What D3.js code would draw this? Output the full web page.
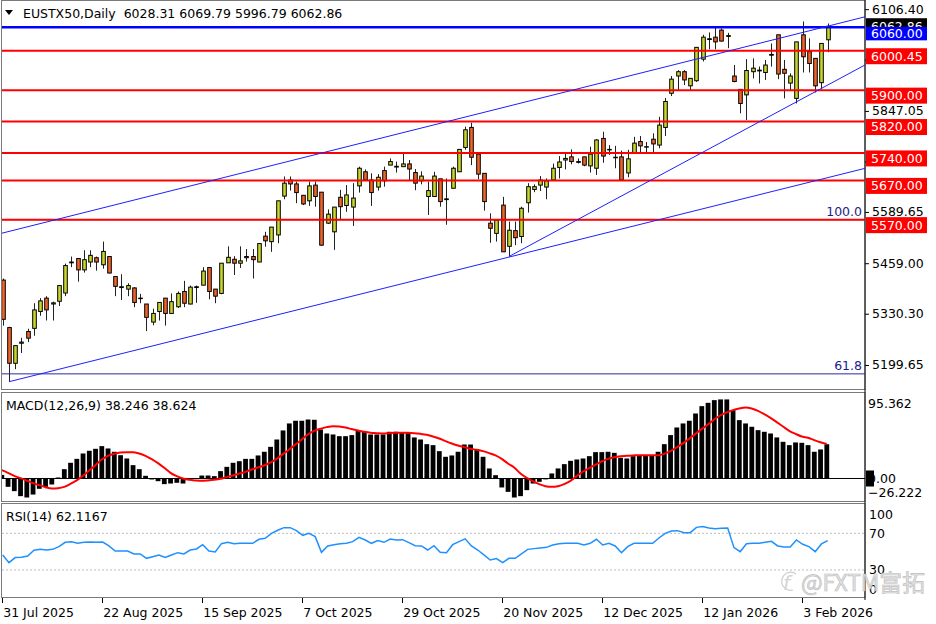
<!DOCTYPE html>
<html>
<head>
<meta charset="utf-8">
<script src="https://cdn.jsdelivr.net/npm/d3@7"></script>
<style>
body { margin: 0; background: #fff; }
text { font-family: "DejaVu Sans", sans-serif; font-size: 12.5px; }
</style>
</head>
<body>
<svg id="chart" width="936" height="624"></svg>
<script>
const titleText = "EUSTX50,Daily  6028.31 6069.79 5996.79 6062.86"
const macdTitle = "MACD(12,26,9) 38.246 38.624"
const rsiTitle = "RSI(14) 62.1167"

// date axis: a label every 16 bars
const dateIdx = [0, 16, 32, 48, 64, 80, 96, 112, 128]
const dateLabels = ["31 Jul 2025", "22 Aug 2025", "15 Sep 2025", "7 Oct 2025", "29 Oct 2025", "20 Nov 2025", "12 Dec 2025", "12 Jan 2026", "3 Feb 2026"]

// daily OHLC
const opens = [5416,5295,5204,5255,5285,5293,5336,5370,5355,5362,5383,5460,5471,5442,5462,5473,5455,5476,5425,5397,
	5393,5396,5369,5355,5309,5336,5370,5331,5348,5387,5355,5397,5403,5448,5393,5382,5460,5469,5459,5476,
	5476,5462,5528,5514,5531,5630,5671,5661,5632,5618,5658,5640,5561,5539,5627,5606,5602,5656,5692,5671,
	5653,5695,5709,5704,5705,5712,5690,5669,5629,5629,5674,5621,5650,5692,5754,5805,5737,5688,5561,5535,
	5607,5502,5542,5527,5613,5647,5658,5653,5671,5703,5722,5730,5716,5730,5707,5701,5777,5748,5729,5730,
	5689,5741,5769,5755,5775,5760,5805,5892,5936,5947,5911,5924,5979,6029,6035,6053,6037,5936,5902,5888,
	5947,5949,5945,5989,6041,5953,5918,5879,6041,5998,5981,5919,6028.31]
const highs = [5420,5297,5250,5269,5292,5357,5370,5375,5361,5402,5458,5476,5471,5492,5492,5476,5514,5477,5426,5431,
	5408,5398,5381,5355,5343,5359,5370,5382,5387,5414,5402,5402,5449,5449,5393,5459,5502,5477,5502,5495,
	5495,5510,5539,5551,5618,5680,5680,5667,5632,5667,5667,5640,5596,5602,5646,5658,5663,5705,5698,5688,
	5686,5705,5726,5718,5740,5722,5699,5693,5667,5692,5674,5675,5705,5749,5807,5817,5737,5688,5586,5569,
	5628,5565,5565,5603,5663,5660,5681,5675,5713,5732,5739,5749,5726,5730,5756,5775,5794,5760,5758,5746,
	5748,5781,5783,5768,5790,5832,5880,5936,5951,5951,5930,6009,6041,6047,6062,6057,6046,5964,5902,5979,
	5981,5960,5977,6019,6041,5977,5943,6023,6075,6032,5981,6019,6069.79]
const lows = [5300,5157,5189,5230,5258,5274,5325,5313,5313,5350,5375,5449,5412,5435,5449,5440,5445,5433,5375,5365,
	5375,5347,5357,5286,5301,5313,5300,5331,5345,5347,5354,5358,5403,5367,5357,5380,5460,5429,5447,5463,
	5420,5462,5501,5488,5510,5622,5644,5612,5607,5605,5603,5503,5559,5493,5569,5590,5554,5639,5670,5605,
	5644,5654,5709,5690,5705,5669,5645,5660,5582,5629,5603,5557,5650,5692,5748,5709,5673,5593,5511,5514,
	5488,5476,5505,5510,5588,5640,5643,5622,5671,5675,5698,5711,5713,5706,5690,5684,5715,5735,5701,5671,
	5678,5741,5741,5737,5742,5752,5783,5885,5900,5913,5900,5921,5973,6004,6004,6024,6007,5920,5841,5824,
	5930,5917,5926,5960,5928,5879,5900,5866,5945,5945,5894,5902,5996.79]
const closes = [5316,5204,5249,5258,5268,5340,5363,5340,5358,5402,5453,5462,5442,5468,5479,5462,5489,5434,5400,5399,
	5402,5359,5370,5321,5331,5359,5331,5361,5382,5357,5398,5399,5439,5387,5375,5459,5474,5459,5465,5473,
	5468,5509,5516,5551,5618,5663,5661,5639,5610,5656,5629,5505,5584,5602,5603,5633,5625,5701,5671,5639,
	5678,5669,5718,5706,5712,5699,5663,5681,5644,5681,5616,5623,5701,5749,5799,5729,5686,5616,5548,5569,
	5488,5543,5524,5599,5654,5654,5671,5669,5701,5717,5726,5718,5718,5709,5737,5773,5732,5749,5728,5671,
	5725,5765,5758,5756,5763,5811,5871,5928,5947,5926,5930,6009,6035,6031,6023,6025,6039,5922,5866,5950,
	5956,5951,5964,5991,5941,5943,5936,6023,5985,5968,5911,6019,6062.86]

// MACD histogram and signal line
const macdMain = [4,-9.3,-14.1,-19.7,-21.2,-17.9,-11.5,-9.3,-6.7,1.1,10.4,17.5,21.9,27.9,30.9,33.1,36.1,33.5,29.8,26,
	22.3,14.9,10.4,3,-1.1,-3,-6.3,-5.6,-4.8,-5.6,-1.1,0.4,3.3,3.3,2.6,8.2,13,17.5,19.3,21.9,
	21.9,25.7,29.8,35.3,43.5,53.6,61.4,64.4,64.4,65.8,65.5,54.7,50.2,49.1,47.2,47.2,48.4,53.2,52.1,49.1,
	49.1,49.1,52.1,52.1,51,51,45.8,43.5,38.3,37.2,30.5,24.2,25.7,29.8,37.9,37.9,32.4,24.2,11.2,3.7,
	-10,-14.9,-21.2,-19.7,-13,-5.6,-3.7,-1,5.6,11.2,16,19.7,21.2,22.3,24.9,29.4,29.4,29.8,28.6,23.1,
	22.3,24.9,25.7,25.7,25.7,29.8,38.3,48.4,56.9,61.4,64.4,72.5,80.7,84.4,87.4,88.2,88.2,76.3,65.1,61.4,
	57.7,53.9,52.1,50.2,45.8,40.9,37.2,40.2,39.8,37.2,29.8,32.4,38.246]
const macdSignal = [9.3,6.3,3,0.4,-2.2,-5.2,-7.4,-9.7,-11.2,-10.8,-9.3,-6,-2.2,3,8.9,14.9,21.2,25.3,27.5,29,
	29.4,29.4,27.9,25.3,21.6,17.1,11.9,6.3,2.6,0,-1.5,-2.2,-2.6,-2.2,-1.5,-0.4,1.5,3.3,5.6,7.4,
	10,12.3,14.5,17.9,21.9,27.2,32.4,37.9,43.5,49.1,53.2,55.4,57.3,58.4,58,56.9,55.1,53.6,52.1,51,
	50.6,50.2,50.6,51,51,51,50.6,49.8,48.7,46.9,44.6,41.7,39.1,36.8,35,33.1,32,30.5,28.3,25.7,
	21.9,16.7,12.3,5.6,0.7,-3,-6.3,-8.6,-9.3,-8.6,-6.3,-2.6,2.6,7.8,11.5,15.3,19,21.9,23.8,24.9,
	25.3,25.7,26,26,26,26,27.5,30.5,34.6,39.1,44.3,49.8,55.1,60.3,65.8,70.3,73.7,76.3,78.1,79.2,
	78.1,75.5,71.8,67.7,62.9,58,53.2,49.8,46.9,45.4,42.8,40.5,38.624]

// RSI(14)
const rsiValues = [46.4,38,43.5,43.8,45.3,51.5,52.5,51.8,52.5,55.5,60.2,60.9,59.1,60.2,60.5,60.2,60.5,56.2,50.7,50.7,
	50.7,47.5,47.5,42.7,44.5,46.4,43.8,46.4,48.9,47.5,51.8,52.9,57.6,50.7,49.6,58.7,60.2,58.7,59.1,59.1,
	59.1,63.5,64.5,70,73.3,76.2,76.2,72.9,67.8,70,66.4,49.3,56.2,57.6,58.7,59.1,60.9,65.6,62.7,59.1,
	62,60.2,63.8,62.7,63.1,59.8,56.5,56.2,51.8,56.5,49.3,48.9,57.6,60.9,64,56.2,51.8,46.4,40.9,42.4,
	38,42.7,42.7,47.5,52.5,53.3,54,54.7,57.3,58.7,59.1,59.1,59.1,57.3,59.1,63.5,57.3,59.1,56.2,48.9,
	55.5,59.1,59.1,59.1,59.1,64.9,70,72.5,72.9,70.7,70.7,76.5,77.3,75.8,75.1,75.5,75.8,54.4,50,58.7,
	59.1,59.1,60.2,61.3,56.2,55.1,55.1,62.7,58,55.5,50,58.4,62.1167]

// price axis ticks and drawn levels
const priceTicks = [6106.40, 5977.75, 5847.05, 5718.35, 5589.65, 5459.00, 5330.30, 5199.65]
const redLevels = [6000.45, 5900.00, 5820.00, 5740.00, 5670.00, 5570.00]
const blueLevel = 6060.00
const lastPrice = 6062.86
const fibLevels = [{ label: "100.0", price: 5570 }, { label: "61.8", price: 5177 }]
// trend lines: anchor bar index and price
const trendLines = [
	{ i0: 0, p0: 5536, i1: 132, p1: 6063, extendLeft: true },
	{ i0: 1, p0: 5157, i1: 132, p1: 5677, extendLeft: false },
	{ i0: 81, p0: 5476, i1: 132, p1: 5913, extendLeft: false }
]
const macdTicks = [95.362, 0, -26.222]
const rsiTicks = [100, 70, 30, 0]
const rsiGuides = [70, 30]

const svg = d3.select("#chart")
const left = 2, right = 865
const bull = "#c9d62c", bear = "#f0642a"

// pane geometry
const mainPane = { top: 1, bottom: 390 }
const macdPane = { top: 393, bottom: 502 }
const rsiPane = { top: 504, bottom: 598 }

const x = d3.scaleLinear().domain([0, 132]).range([2.7, 827.7])
const y = d3.scaleLinear().domain([5141, 6124.6]).range([388, 2])
const yM = d3.scaleLinear().domain([-26.222, 95.362]).range([macdPane.bottom, macdPane.top])
const yR = d3.scaleLinear().domain([0, 100]).range([597.5, 505.8])

const defs = svg.append("defs")
function clip(id, pane) {
	defs.append("clipPath").attr("id", id).append("rect")
		.attr("x", left).attr("y", pane.top).attr("width", right - left).attr("height", pane.bottom - pane.top)
}
clip("clipMain", mainPane)
clip("clipMacd", macdPane)
clip("clipRsi", rsiPane)

// pane frames
;[mainPane, macdPane, rsiPane].forEach(p => {
	svg.append("rect")
		.attr("x", left - 0.5).attr("y", p.top - 0.5)
		.attr("width", right - left + 0.5).attr("height", p.bottom - p.top)
		.attr("fill", "none").attr("stroke", "#7a7a7a").attr("stroke-width", 1)
})
svg.append("line").attr("x1", right).attr("x2", right).attr("y1", 0).attr("y2", 600)
	.attr("stroke", "#000").attr("stroke-width", 1)

// ---- main pane ----
const main = svg.append("g").attr("clip-path", "url(#clipMain)")

const candles = d3.range(opens.length).map(i => ({ i: i, o: opens[i], h: highs[i], l: lows[i], c: closes[i] }))

main.selectAll(".wick")
	.data(candles)
	.join("line")
	.attr("class", "wick")
	.attr("x1", d => Math.round(x(d.i)) + 0.5).attr("x2", d => Math.round(x(d.i)) + 0.5)
	.attr("y1", d => y(d.h)).attr("y2", d => y(d.l))
	.attr("stroke", "#222").attr("stroke-width", 1)

main.selectAll(".body")
	.data(candles)
	.join("rect")
	.attr("class", "body")
	.attr("x", d => Math.round(x(d.i)) - 1.3)
	.attr("width", 3.6)
	.attr("y", d => y(Math.max(d.o, d.c)))
	.attr("height", d => Math.max(0.5, Math.abs(y(d.o) - y(d.c))))
	.attr("fill", d => d.c >= d.o ? bull : bear)
	.attr("stroke", "#000")
	.attr("stroke-width", 1)

// fibonacci levels (the 100.0 one sits under the 5570 line)
fibLevels.forEach(f => {
	main.append("line")
		.attr("x1", left).attr("x2", right)
		.attr("y1", y(f.price)).attr("y2", y(f.price))
		.attr("stroke", "#2b2b9c").attr("stroke-width", 1)
	main.append("text")
		.attr("x", 862).attr("y", y(f.price) - 4)
		.attr("text-anchor", "end")
		.attr("fill", "#1c1c8a")
		.text(f.label)
})

// horizontal levels
main.selectAll(".lvl")
	.data(redLevels)
	.join("line")
	.attr("x1", left).attr("x2", right)
	.attr("y1", d => y(d)).attr("y2", d => y(d))
	.attr("stroke", "#ff0000").attr("stroke-width", 2)

main.append("line")
	.attr("x1", left).attr("x2", right)
	.attr("y1", y(blueLevel)).attr("y2", y(blueLevel))
	.attr("stroke", "#0000ff").attr("stroke-width", 2.5)

// trend lines, extended to the right edge
trendLines.forEach(t => {
	const slope = (t.p1 - t.p0) / (t.i1 - t.i0)
	const iStart = t.extendLeft ? x.invert(0) : t.i0
	const iEnd = x.invert(right + 2)
	main.append("line")
		.attr("x1", x(iStart)).attr("y1", y(t.p0 + slope * (iStart - t.i0)))
		.attr("x2", x(iEnd)).attr("y2", y(t.p0 + slope * (iEnd - t.i0)))
		.attr("stroke", "#1f1fff").attr("stroke-width", 1)
})

// header
svg.append("path")
	.attr("d", "M5,10 L13,10 L9,15 Z")
	.attr("fill", "#000")
svg.append("text")
	.attr("x", 23).attr("y", 13.5).attr("dy", "0.35em")
	.style("white-space", "pre")
	.text(titleText)

// price axis
const priceAxis = svg.append("g")
	.attr("transform", `translate(${right},0)`)
	.call(d3.axisRight(y).tickValues(priceTicks).tickFormat(d3.format(".2f")).tickSize(4).tickPadding(3))
priceAxis.select(".domain").remove()
priceAxis.selectAll("text").attr("fill", "#000").style("font-size", "12.5px").style("font-family", "DejaVu Sans")

// price labels
function priceBox(val, top, h, fill) {
	svg.append("rect").attr("x", 866).attr("y", top).attr("width", 61).attr("height", h).attr("fill", fill)
	svg.append("text").attr("x", 871).attr("y", top + h / 2).attr("dy", "0.35em")
		.attr("fill", "#fff").text(d3.format(".2f")(val))
}
priceBox(lastPrice, y(lastPrice) - 8, 16, "#000")
redLevels.forEach(v => priceBox(v, y(v) - 2.5, 16, "#ff0000"))
priceBox(blueLevel, y(blueLevel) - 0.5, 13.5, "#0000ff")

// ---- MACD pane ----
const macdG = svg.append("g").attr("clip-path", "url(#clipMacd)")
macdG.append("line")
	.attr("x1", left).attr("x2", right).attr("y1", yM(0)).attr("y2", yM(0))
	.attr("stroke", "#000").attr("stroke-width", 1)
macdG.selectAll(".hist")
	.data(macdMain)
	.join("rect")
	.attr("x", (d, i) => x(i) - 3.3)
	.attr("width", 4.8)
	.attr("y", d => Math.min(yM(d), yM(0)))
	.attr("height", d => Math.abs(yM(d) - yM(0)))
	.attr("fill", "#000")
macdG.append("path")
	.datum(macdSignal)
	.attr("d", d3.line().x((d, i) => x(i) - 1).y(d => yM(d)).curve(d3.curveMonotoneX))
	.attr("fill", "none").attr("stroke", "#ff0000").attr("stroke-width", 2)

svg.append("text").attr("x", 6).attr("y", 406).attr("dy", "0.35em").text(macdTitle)
svg.append("rect").attr("x", 866).attr("y", yM(0) - 8).attr("width", 8).attr("height", 16).attr("fill", "#000")
macdTicks.forEach(v => {
	const ty = Math.min(Math.max(yM(v), 404), 493)
	svg.append("text").attr("x", 868).attr("y", ty).attr("dy", "0.35em")
		.text(v === 0 ? "0.00" : d3.format(".3f")(v))
})

// ---- RSI pane ----
const rsiG = svg.append("g").attr("clip-path", "url(#clipRsi)")
rsiG.selectAll(".guide")
	.data(rsiGuides)
	.join("line")
	.attr("x1", left).attr("x2", right)
	.attr("y1", d => yR(d)).attr("y2", d => yR(d))
	.attr("stroke", "#bdbdbd").attr("stroke-width", 1).attr("stroke-dasharray", "2,2")
rsiG.append("path")
	.datum(rsiValues)
	.attr("d", d3.line().x((d, i) => x(i)).y(d => yR(d)))
	.attr("fill", "none").attr("stroke", "#1e90ff").attr("stroke-width", 1.5)

svg.append("text").attr("x", 6).attr("y", 517).attr("dy", "0.35em").text(rsiTitle)
rsiTicks.forEach(v => {
	const ty = Math.min(Math.max(yR(v), 515), 590)
	svg.append("text").attr("x", 869).attr("y", ty).attr("dy", "0.35em").text(v)
})

// ---- date axis ----
const dateAxis = svg.append("g")
	.attr("transform", `translate(0,${rsiPane.bottom})`)
	.call(d3.axisBottom(x).tickValues(dateIdx).tickFormat((d, k) => dateLabels[k]).tickSize(5).tickPadding(5))
dateAxis.select(".domain").remove()
dateAxis.selectAll(".tick line").attr("transform", "translate(-0.7,0)")
dateAxis.selectAll("text")
	.attr("text-anchor", "start")
	.attr("x", 0)
	.attr("fill", "#000")
	.style("font-size", "12.5px").style("font-family", "DejaVu Sans")

// watermark
const wm = svg.append("g").attr("opacity", 0.9)
wm.append("path")
	.attr("d", "M796,574 A9,9 0 1,0 793,590")
	.attr("fill", "none").attr("stroke", "#c8c8c8").attr("stroke-width", 1.2)
wm.append("text")
	.attr("x", 783).attr("y", 590)
	.attr("fill", "#d0d0d0")
	.style("font-size", "20px").style("font-style", "italic")
	.text("f")
wm.append("text")
	.attr("x", 801).attr("y", 591)
	.attr("textLength", 124).attr("lengthAdjust", "spacingAndGlyphs")
	.attr("fill", "#e4e4e4").attr("stroke", "#b8b8b8").attr("stroke-width", 0.7)
	.style("font-family", "Noto Sans CJK SC").style("font-size", "23px")
	.text("@FXTM富拓")
</script>
</body>
</html>
